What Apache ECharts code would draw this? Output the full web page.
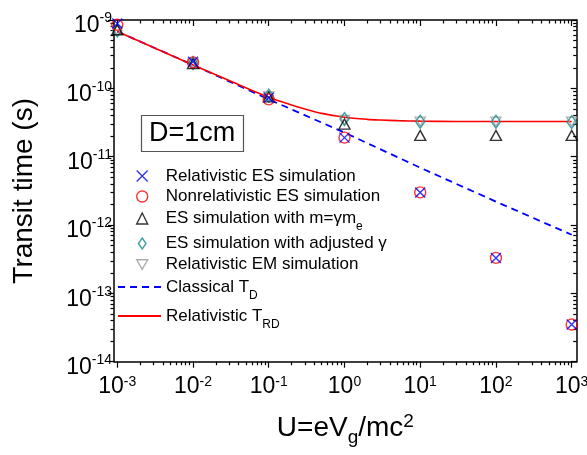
<!DOCTYPE html>
<html><head><meta charset="utf-8">
<script src="https://cdn.jsdelivr.net/npm/echarts@6/dist/echarts.min.js"></script>
<style>html,body{margin:0;padding:0;background:#fff}#c{width:587px;height:455px}</style>
</head><body><div id="c"></div>
<script>
// ---- data ----
const U = [1e-3, 1e-2, 1e-1, 1, 10, 100, 1000];
const relES    = [8.9e-10, 2.45e-10, 7.3e-11, 1.9e-11, 3.0e-12, 3.3e-13, 3.5e-14];
const nonrelES = [8.5e-10, 2.4e-10, 6.9e-11, 1.9e-11, 3.0e-12, 3.3e-13, 3.5e-14];
const massES   = [7.2e-10, 2.3e-10, 7.5e-11, 3.0e-11, 2.05e-11, 2.05e-11, 2.05e-11];
const adjES    = [7.0e-10, 2.35e-10, 7.8e-11, 3.55e-11, 3.25e-11, 3.25e-11, 3.2e-11];
const relEM    = [6.9e-10, 2.3e-10, 7.6e-11, 3.45e-11, 3.25e-11, 3.25e-11, 3.25e-11];
const classicalU = [1e-3, 1e-2, 1e-1, 1, 10, 100, 1000];
const classicalT = [6.8e-10, 2.2e-10, 6.9e-11, 2.25e-11, 6.9e-12, 2.2e-12, 7.2e-13];
const relU = [1e-3, 3e-3, 1e-2, 3e-2, 0.1, 0.2, 0.3, 0.5, 1, 2, 3, 5, 10, 30, 100, 1000];
const relT = [6.8e-10, 3.95e-10, 2.2e-10, 1.3e-10, 7.4e-11, 5.7e-11, 5.0e-11, 4.3e-11, 3.78e-11, 3.52e-11, 3.44e-11, 3.37e-11, 3.31e-11, 3.28e-11, 3.27e-11, 3.27e-11];
const xTicks = [1e-3, 1e-2, 1e-1, 1, 10, 100, 1000];
const yTicks = [1e-14, 1e-13, 1e-12, 1e-11, 1e-10, 1e-9];
const seriesNames = ['Relativistic ES simulation', 'Nonrelativistic ES simulation',
  'ES simulation with m=\u03B3m_e', 'ES simulation with adjusted \u03B3',
  'Relativistic EM simulation', 'Classical T_D', 'Relativistic T_RD'];
const xLabelText = 'U=eV_g/mc^2';
const yLabelText = 'Transit time (s)';
const boxText = 'D=1cm';

// ---- layout ----
const FONT = '"Liberation Sans", Arial, Helvetica, sans-serif';
const xMin = 9.05e-4, xMax = 1165, yMin = 1e-14, yMax = 1e-9;
function minors(lo, hi) {
  const out = [];
  for (let n = Math.floor(Math.log10(lo)) - 1; n <= Math.ceil(Math.log10(hi)); n++) {
    for (let k = 2; k <= 9; k++) { const v = k * Math.pow(10, n); if (v >= lo && v <= hi) out.push(v); }
  }
  return out;
}
const xMinor = minors(xMin, xMax), yMinor = minors(yMin, yMax);
function supLabel(v) { const e = Math.round(Math.log10(v)); return '{b|10}{s|' + e + '}'; }
const richX = {
  b: {fontSize: 23, lineHeight: 24, fontFamily: FONT, color: '#000', verticalAlign: 'middle'},
  s: {fontSize: 14, lineHeight: 14, padding: [0, 0, 10, 0], fontFamily: FONT, color: '#000', verticalAlign: 'middle'}
};
const richY = {
  b: {fontSize: 23, lineHeight: 24, padding: [12, 0, 0, 0], fontFamily: FONT, color: '#000', verticalAlign: 'middle'},
  s: {fontSize: 14, lineHeight: 14, padding: [0, 0, 3, 0], fontFamily: FONT, color: '#000', verticalAlign: 'middle'}
};
const black = {color: '#000', width: 1.5};
function mkAxis(pos, min, max, ticks, len, inside, showLine, label, extra) {
  return Object.assign({
    type: 'log', logBase: 10, gridIndex: 0, position: pos, min: min, max: max,
    axisLine: {show: showLine, onZero: false, lineStyle: black},
    axisTick: {show: true, inside: inside, length: len, customValues: ticks, lineStyle: {color: '#000', width: 1.2}},
    minorTick: {show: false}, splitLine: {show: false}, minorSplitLine: {show: false},
    axisLabel: label || {show: false}, axisPointer: {show: false}, silent: true
  }, extra || {});
}
function richName(str, base, sub, sup) {
  const parts = [];
  let i = 0;
  while (i < str.length) {
    const c = str[i];
    if (c === '_' || c === '^') {
      let j = i + 2;
      parts.push({t: c === '_' ? sub : sup, v: str.slice(i + 1, j)}); i = j;
    } else {
      let j = i; while (j < str.length && str[j] !== '_' && str[j] !== '^') j++;
      parts.push({t: base, v: str.slice(i, j)}); i = j;
    }
  }
  return parts.map(p => '{' + p.t + '|' + p.v + '}').join('');
}

const xAxes = [
  mkAxis('bottom', xMin, xMax, xTicks, 6, false, true,
    {show: true, customValues: xTicks, margin: 13, formatter: supLabel, rich: richX, hideOverlap: false},
    {name: richName(xLabelText, 'a', 'g', 'p'), nameLocation: 'middle', nameGap: 52,
     nameTextStyle: {rich: {
       a: {fontSize: 28, lineHeight: 30, fontFamily: FONT, color: '#000', verticalAlign: 'middle'},
       g: {fontSize: 19, lineHeight: 20, padding: [18, 0, 0, 0], fontFamily: FONT, color: '#000', verticalAlign: 'middle'},
       p: {fontSize: 19, lineHeight: 20, padding: [0, 0, 13, 0], fontFamily: FONT, color: '#000', verticalAlign: 'middle'}
     }}}),
  mkAxis('bottom', xMin, xMax, xMinor, 3.5, false, false),
  mkAxis('top', xMin, xMax, xTicks, 6, true, true),
  mkAxis('top', xMin, xMax, xMinor, 3.5, true, false)
];
const yAxes = [
  mkAxis('left', yMin, yMax, yTicks, 6, false, true,
    {show: true, customValues: yTicks, margin: 2, formatter: supLabel, rich: richY, hideOverlap: false},
    {name: yLabelText, nameLocation: 'middle', nameGap: 75, nameRotate: 90,
     nameTextStyle: {fontSize: 28, lineHeight: 30, fontFamily: FONT, color: '#000'}}),
  mkAxis('left', yMin, yMax, yMinor, 3.5, false, false),
  mkAxis('right', yMin, yMax, yTicks, 6, true, true),
  mkAxis('right', yMin, yMax, yMinor, 3.5, true, false)
];

function pairs(xs, ys) { return xs.map((x, i) => [x, ys[i]]); }
const SYM_X = 'path://M0,0L10,10M10,0L0,10';
const SYM_DIAMOND = 'path://M4.5,0L9,6.5L4.5,13L0,6.5Z';
const SYM_INVTRI = 'path://M0,0L10,0L5,8.66Z';
function scatter(name, ys, symbol, size, color, z) {
  return {type: 'scatter', name: name, data: pairs(U, ys), symbol: symbol, symbolSize: size,
    xAxisIndex: 0, yAxisIndex: 0, clip: false, z: z, silent: true,
    itemStyle: {color: 'rgba(0,0,0,0)', borderColor: color, borderWidth: 1.4}};
}
const series = [
  {type: 'line', name: seriesNames[5], data: pairs(classicalU, classicalT), symbol: 'none', z: 2, silent: true,
   lineStyle: {color: '#0000ff', width: 1.8, type: [7, 5]}, itemStyle: {color: '#0000ff'}},
  {type: 'line', name: seriesNames[6], data: pairs(relU, relT), symbol: 'none', smooth: 0.3, z: 2, silent: true,
   lineStyle: {color: '#ff0000', width: 1.6}, itemStyle: {color: '#ff0000'}},
  scatter(seriesNames[4], relEM, SYM_INVTRI, [10, 9], '#9a9a9a', 3),
  scatter(seriesNames[3], adjES, SYM_DIAMOND, [9, 13], '#168a8a', 4),
  scatter(seriesNames[2], massES, 'triangle', [11, 10], '#000000', 5),
  scatter(seriesNames[1], nonrelES, 'circle', 11, '#ff0000', 6),
  scatter(seriesNames[0], relES, SYM_X, 10, '#0000ff', 7)
];

const legendRich = {
  sp: {width: 13, fontSize: 17, lineHeight: 20, fontFamily: FONT},
  n: {fontSize: 17, lineHeight: 20, fontFamily: FONT, color: '#000', verticalAlign: 'middle'},
  d: {fontSize: 12, lineHeight: 12, padding: [17, 0, 0, 0], fontFamily: FONT, color: '#000', verticalAlign: 'middle'}
};
function legendFmtSym(name) {
  const k = name.indexOf('_');
  if (k < 0) return '{sp| }{n|' + name + '}';
  return '{sp| }{n|' + name.slice(0, k) + '}{d|' + name.slice(k + 1) + '}';
}
function legendFmtLine(name) {
  const k = name.indexOf('_');
  if (k < 0) return '{n|' + name + '}';
  return '{n|' + name.slice(0, k) + '}{d|' + name.slice(k + 1) + '}';
}
// legend item layout: [centre y, left, is line item]
const legendPos = [[177.5, 136, false], [198, 136, false], [218.5, 136, false], [245, 137.7, false],
  [266, 136, false], [287, 117, true], [316, 117, true]];
const legends = seriesNames.map((nm, i) => {
  const h = nm.indexOf('_') >= 0 ? 29 : 20;
  const p = legendPos[i];
  const o = {data: [nm], left: p[1], top: p[0] - h / 2, padding: 0, orient: 'vertical', selectedMode: false,
    textStyle: {fontSize: 17, fontFamily: FONT, color: '#000', rich: legendRich}};
  if (p[2]) {
    o.itemWidth = 43; o.itemHeight = 11; o.formatter = legendFmtLine;
    o.itemStyle = {color: 'rgba(0,0,0,0)', borderColor: 'rgba(0,0,0,0)', borderWidth: 0};
  } else {
    o.itemWidth = 11; o.itemHeight = 11; o.formatter = legendFmtSym;
    o.itemStyle = {borderWidth: 1.4};
  }
  return o;
});

const chart = echarts.init(document.getElementById('c'), null, {renderer: 'canvas'});
chart.setOption({
  animation: false,
  backgroundColor: '#fff',
  textStyle: {fontFamily: FONT},
  grid: {left: 114, right: 10.3, top: 20, bottom: 93.3, containLabel: false, outerBoundsMode: 'none'},
  title: {text: boxText, left: 141, top: 115, padding: [5, 8, 5, 8], borderColor: '#555', borderWidth: 1.2,
    textStyle: {fontSize: 27, lineHeight: 27, fontWeight: 'normal', fontFamily: FONT, color: '#000'}},
  legend: legends,
  xAxis: xAxes,
  yAxis: yAxes,
  series: series
});
</script></body></html>
